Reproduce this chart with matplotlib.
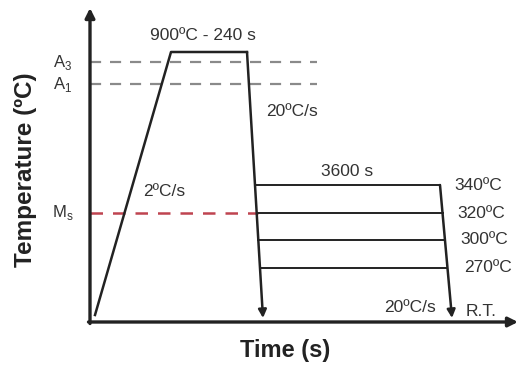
import matplotlib
matplotlib.use('Agg')
import matplotlib.pyplot as plt

plt.rcParams['font.family'] = ['Liberation Sans', 'DejaVu Sans']
plt.rcParams['mathtext.fontset'] = 'custom'
plt.rcParams['mathtext.rm'] = 'Liberation Sans'

# schematic profile (arbitrary time / temperature units, not to scale)
heat_time = [5, 81, 157]
heat_temp = [7, 270, 270]
quench1_time = [157, 173]
quench1_temp = [270, 4]

hold_temps = [137, 109, 82, 54]
hold_labels = ['340ºC', '320ºC', '300ºC', '270ºC']
quench2_time = [350, 362]
quench2_temp = [137, 4]

crit_names = [r'A$_\mathrm{3}$', r'A$_\mathrm{1}$']
crit_temps = [260, 238]
crit_end = 227
ms_temp = 109
ms_end = 168

ink = '#222222'
txt = '#333333'


def on_line(xs, ys, y):
    # time where a sloped quench line crosses temperature y
    return xs[0] + (xs[1] - xs[0]) * (ys[0] - y) / (ys[0] - ys[1])


fig = plt.figure(figsize=(5.18, 3.65), dpi=100)
ax = fig.add_axes([0, 0, 1, 1])
ax.set_xlim(-90, 428)
ax.set_ylim(-43, 322)
ax.axis('off')

# axes with arrows
ax.annotate('', xy=(0, 314), xytext=(0, -1.5),
            arrowprops=dict(arrowstyle='-|>', lw=2.4, color=ink, mutation_scale=14,
                            shrinkA=0, shrinkB=0))
ax.annotate('', xy=(428, 0), xytext=(-1.5, 0),
            arrowprops=dict(arrowstyle='-|>', lw=2.4, color=ink, mutation_scale=14,
                            shrinkA=0, shrinkB=0))

# critical temperatures
for name, t in zip(crit_names, crit_temps):
    ax.plot([0, crit_end], [t, t], ls=(0, (5, 4)), lw=1.6, color='#8a8a8a')
    ax.text(-27, t, name, ha='center', va='center', fontsize=12, color=txt)
ax.plot([0, ms_end], [ms_temp, ms_temp], ls=(0, (5, 4)), lw=1.8, color='#bf4450')
ax.text(-27, ms_temp, r'M$_\mathrm{s}$', ha='center', va='center', fontsize=12, color=txt)

# heating + austenitising
ax.plot(heat_time, heat_temp, color=ink, lw=1.8)
ax.annotate('', xy=(quench1_time[1], quench1_temp[1]),
            xytext=(quench1_time[0], quench1_temp[0]),
            arrowprops=dict(arrowstyle='-|>', lw=1.8, color=ink, mutation_scale=12,
                            shrinkA=0, shrinkB=0))

# isothermal holds and final quench
for t in hold_temps:
    ax.plot([on_line(quench1_time, quench1_temp, t), on_line(quench2_time, quench2_temp, t)],
            [t, t], color=ink, lw=1.4)
ax.annotate('', xy=(quench2_time[1], quench2_temp[1]),
            xytext=(quench2_time[0], quench2_temp[0]),
            arrowprops=dict(arrowstyle='-|>', lw=1.8, color=ink, mutation_scale=12,
                            shrinkA=0, shrinkB=0))

for t, lab, dx in zip(hold_temps, hold_labels, [388, 391, 394, 398]):
    ax.text(dx, t, lab, ha='center', va='center', fontsize=12.5, color=txt)

ax.text(113, 287, '900ºC - 240 s', ha='center', va='center', fontsize=12.5, color=txt)
ax.text(202, 210, '20ºC/s', ha='center', va='center', fontsize=12.5, color=txt)
ax.text(74, 130, '2ºC/s', ha='center', va='center', fontsize=12.5, color=txt)
ax.text(257, 150, '3600 s', ha='center', va='center', fontsize=12.5, color=txt)
ax.text(320, 15, '20ºC/s', ha='center', va='center', fontsize=12.5, color=txt)
ax.text(391, 10, 'R.T.', ha='center', va='center', fontsize=12.5, color=txt)

ax.text(-64, 152, 'Temperature (ºC)', rotation=90, ha='center', va='center',
        fontsize=17.5, fontweight='bold', color=ink)
ax.text(195, -28, 'Time (s)', ha='center', va='center',
        fontsize=17, fontweight='bold', color=ink)

fig.savefig('out.png', dpi=100)
